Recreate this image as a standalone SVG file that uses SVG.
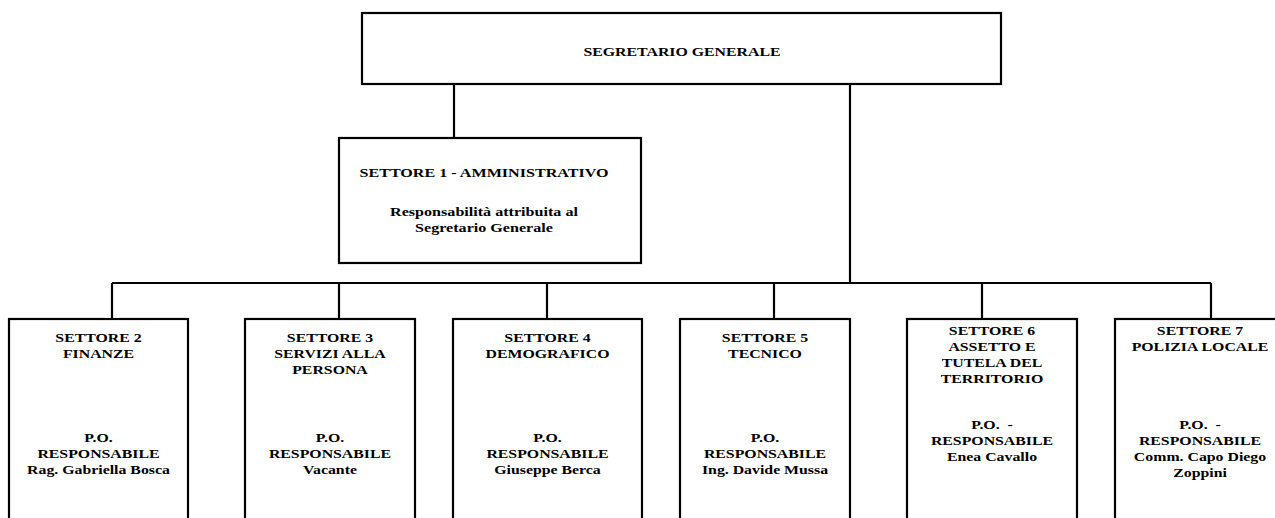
<svg xmlns="http://www.w3.org/2000/svg" width="1275" height="518" viewBox="0 0 1275 518">
<style>
.box{fill:#fff;stroke:#000;stroke-width:2.2}
.ln{fill:none;stroke:#000;stroke-width:2.2}
text{font-family:"Liberation Serif","Times New Roman",serif;font-weight:bold;font-size:13.2px;fill:#000;text-anchor:middle;white-space:pre}
</style>
<rect width="1275" height="518" fill="#fff"/>
<g id="connectors">
<path class="ln" d="M454 84V138"/>
<path class="ln" d="M850 84V283"/>
<path class="ln" d="M112 283H1211"/>
<path class="ln" d="M112 283V319M339 283V319M547 283V319M774 283V319M982 283V319M1211 283V319"/>
</g>
<g id="segretario">
<rect class="box" x="362" y="13" width="639" height="71"/>
<g transform="translate(682 0) scale(1.2 1)"><text x="0" y="56">SEGRETARIO GENERALE</text></g>
</g>
<g id="settore1">
<rect class="box" x="339" y="138" width="302" height="125"/>
<g transform="translate(484 0) scale(1.22 1)">
<text x="0" y="177">SETTORE 1 - AMMINISTRATIVO</text>
<text x="0" y="216">Responsabilità attribuita al</text>
<text x="0" y="232">Segretario Generale</text>
</g>
</g>
<g id="settore2">
<rect class="box" x="9" y="319" width="179" height="230"/>
<g transform="translate(98.5 0) scale(1.2 1)">
<text x="0" y="342">SETTORE 2</text>
<text x="0" y="358">FINANZE</text>
<text x="0" y="442">P.O.</text>
<text x="0" y="458">RESPONSABILE</text>
<text x="0" y="474">Rag. Gabriella Bosca</text>
</g>
</g>
<g id="settore3">
<rect class="box" x="245" y="319" width="170" height="230"/>
<g transform="translate(330 0) scale(1.2 1)">
<text x="0" y="342">SETTORE 3</text>
<text x="0" y="358">SERVIZI ALLA</text>
<text x="0" y="374">PERSONA</text>
<text x="0" y="442">P.O.</text>
<text x="0" y="458">RESPONSABILE</text>
<text x="0" y="474">Vacante</text>
</g>
</g>
<g id="settore4">
<rect class="box" x="453" y="319" width="189" height="230"/>
<g transform="translate(547.5 0) scale(1.2 1)">
<text x="0" y="342">SETTORE 4</text>
<text x="0" y="358">DEMOGRAFICO</text>
<text x="0" y="442">P.O.</text>
<text x="0" y="458">RESPONSABILE</text>
<text x="0" y="474">Giuseppe Berca</text>
</g>
</g>
<g id="settore5">
<rect class="box" x="680" y="319" width="170" height="230"/>
<g transform="translate(765 0) scale(1.2 1)">
<text x="0" y="342">SETTORE 5</text>
<text x="0" y="358">TECNICO</text>
<text x="0" y="442">P.O.</text>
<text x="0" y="458">RESPONSABILE</text>
<text x="0" y="474">Ing. Davide Mussa</text>
</g>
</g>
<g id="settore6">
<rect class="box" x="907" y="319" width="170" height="230"/>
<g transform="translate(992 0) scale(1.2 1)">
<text x="0" y="335">SETTORE 6</text>
<text x="0" y="351">ASSETTO E</text>
<text x="0" y="367">TUTELA DEL</text>
<text x="0" y="383">TERRITORIO</text>
<text x="0" y="429">P.O.  -</text>
<text x="0" y="445">RESPONSABILE</text>
<text x="0" y="461">Enea Cavallo</text>
</g>
</g>
<g id="settore7">
<rect class="box" x="1115" y="319" width="170" height="230"/>
<g transform="translate(1200 0) scale(1.2 1)">
<text x="0" y="335">SETTORE 7</text>
<text x="0" y="351">POLIZIA LOCALE</text>
<text x="0" y="429">P.O.  -</text>
<text x="0" y="445">RESPONSABILE</text>
<text x="0" y="461">Comm. Capo Diego</text>
<text x="0" y="477">Zoppini</text>
</g>
</g>
</svg>
